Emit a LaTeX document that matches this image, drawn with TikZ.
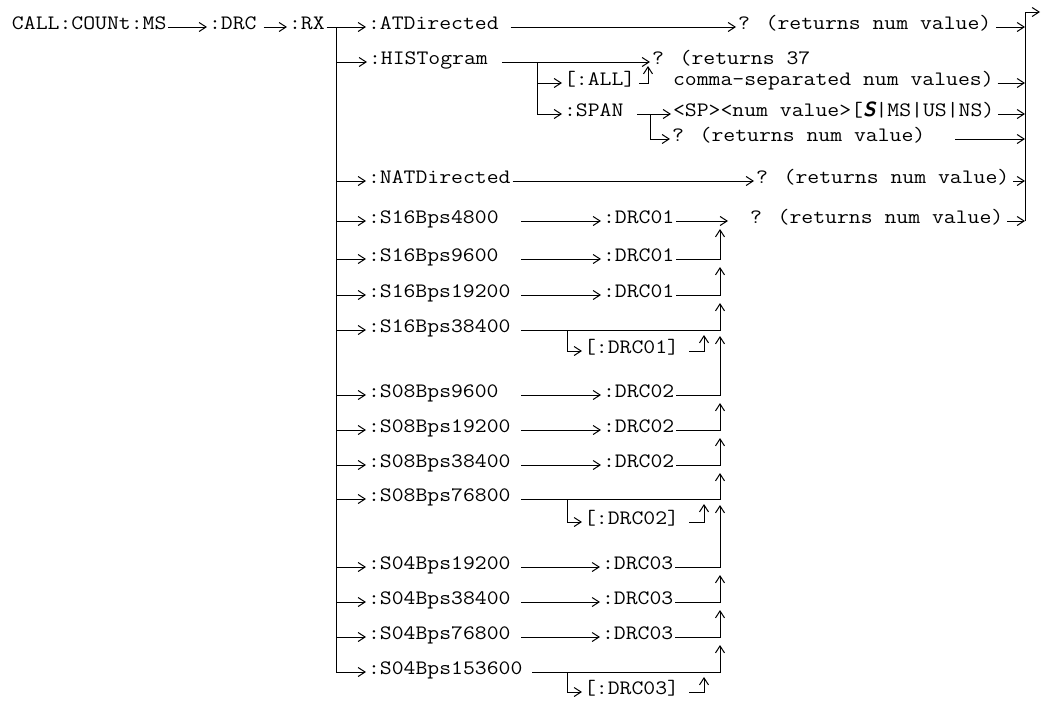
\documentclass[tikz,border=0pt]{standalone}
\usepackage{fontspec}
\newfontfamily\cour[FakeStretch=1.125]{Latin Modern Mono}
\usetikzlibrary{arrows.meta,calc}
\begin{document}
\begin{tikzpicture}[x=1pt,y=-1pt,
  lbl/.style={anchor=mid west, inner sep=0pt, outer sep=2pt, font={\cour\fontsize{20.5}{23}\selectfont}},
  ln/.style={line width=1pt},
  arr/.style={line width=1pt, -{Straight Barb[length=7pt,width=9pt]}}]
\useasboundingbox (0,0) rectangle (1041,702);
% nodes
\node[lbl] (call) at (10,27) {CALL:COUNt:MS};
\node[lbl] (drc) at (207,27) {:DRC};
\node[lbl] (rx) at (287,27) {:RX};
\node[lbl] (atd) at (366,27) {:ATDirected};
\node[lbl] (atdq) at (736,27) {? (returns num value)};
\node[lbl] (hist) at (367,62) {:HISTogram};
\node[lbl] (hq1) at (650,62) {? (returns 37};
\node[lbl] (hq2) at (671,83) {comma-separated num values)};
\node[lbl] (all) at (562,83) {[:ALL]};
\node[lbl] (span) at (562,114) {:SPAN};
\node[lbl] (spv) at (671,114) {<SP><num value>[{\sffamily\bfseries\itshape S}|MS|US|NS)};
\node[lbl] (spq) at (670,139) {? (returns num value)};
\node[lbl] (nat) at (366,181) {:NATDirected};
\node[lbl] (natq) at (754,181) {? (returns num value)};
\node[lbl] (s16a) at (366,221) {:S16Bps4800};
\node[lbl] (s16b) at (366,259) {:S16Bps9600};
\node[lbl] (s16c) at (366,295) {:S16Bps19200};
\node[lbl] (s16d) at (366,330) {:S16Bps38400};
\node[lbl] (o1) at (582,351) {[:DRC01]};
\node[lbl] (s08a) at (366,395) {:S08Bps9600};
\node[lbl] (s08b) at (366,430) {:S08Bps19200};
\node[lbl] (s08c) at (366,465) {:S08Bps38400};
\node[lbl] (s08d) at (366,499) {:S08Bps76800};
\node[lbl] (o2) at (582,522) {[:DRC02]};
\node[lbl] (s04a) at (366,567) {:S04Bps19200};
\node[lbl] (s04b) at (366,602) {:S04Bps38400};
\node[lbl] (s04c) at (366,637) {:S04Bps76800};
\node[lbl] (s04d) at (366,672) {:S04Bps153600};
\node[lbl] (o3) at (582,692) {[:DRC03]};
\node[lbl] (d1a) at (601,221) {:DRC01};
\node[lbl] (d1b) at (601,259) {:DRC01};
\node[lbl] (d1c) at (601,295) {:DRC01};
\node[lbl] (d2a) at (601,395) {:DRC02};
\node[lbl] (d2b) at (601,430) {:DRC02};
\node[lbl] (d2c) at (601,465) {:DRC02};
\node[lbl] (d3a) at (600,567) {:DRC03};
\node[lbl] (d3b) at (600,602) {:DRC03};
\node[lbl] (d3c) at (600,637) {:DRC03};
\node[lbl] (drcq) at (748,221) {? (returns num value)};
% helper coordinates
\coordinate (rxv) at (336,27);
\coordinate (hv) at (537,62);
\coordinate (allup) at (648,66);
\coordinate (sv) at (650,114);
\coordinate (bartop) at (1025,12);
\coordinate (barbot) at (1025,221);
\coordinate (lx) at (521,0);
\coordinate (mx) at (720,0);
\coordinate (ox) at (567,0);
\coordinate (oux) at (704,0);
% main chain
\draw[arr] (call.mid east) -- (drc.mid west);
\draw[arr] ($(drc.mid east)+(5,0)$) -- (rx.mid west);
\draw[arr] (rx.mid east) -- (atd.mid west);
\draw[arr] (rxv) |- (s04d.mid west);
\foreach \n in {hist,nat,s16a,s16b,s16c,s16d,s08a,s08b,s08c,s08d,s04a,s04b,s04c}
  \draw[arr] (rxv |- \n.mid west) -- (\n.mid west);
\draw[arr] ($(atd.mid east)+(10,0)$) -- (atdq.mid west);
\draw[arr] ($(atdq.mid east)+(3,0)$) -- (atdq.mid east -| bartop);
\draw[arr] (barbot) -- (bartop) -- ++(15,0);
% histogram
\draw[arr] ($(hist.mid east)+(12,0)$) -- (hq1.mid west);
\draw[arr] (hv) |- (all.mid west);
\draw[arr] (hv) |- (span.mid west);
\draw[arr] ($(all.mid east)+(2,0)$) -| (allup);
\draw[arr] ($(hq2.mid east)+(2,0)$) -- (hq2.mid east -| bartop);
\draw[arr] ($(span.mid east)+(12,0)$) -- (spv.mid west);
\draw[arr] (sv) |- (spq.mid west);
\draw[arr] ($(spv.mid east)+(2,0)$) -- (spv.mid east -| bartop);
\draw[arr] ($(spq.mid east)+(28,0)$) -- (spq.mid east -| bartop);
% natdirected
\draw[arr] (nat.mid east) -- (natq.mid west);
\draw[arr] ($(natq.mid east)+(2,0)$) -- (natq.mid east -| bartop);
% rate rows to DRC
\foreach \s/\d in {s16a/d1a,s16b/d1b,s16c/d1c,s08a/d2a,s08b/d2b,s08c/d2c,s04a/d3a,s04b/d3b,s04c/d3c}
  \draw[arr] (\s.mid east -| lx) -- (\d.mid west);
\draw[arr] (d1a.mid east) -- ($(drcq.mid west)+(-20,0)$);
\draw[arr] ($(drcq.mid east)+(2,0)$) -- (drcq.mid east -| bartop);
% merges
\draw[arr] (d1b.mid east) -| ($(d1a.mid east -| mx)+(0,8)$);
\draw[arr] (d1c.mid east) -| ($(d1b.mid east -| mx)+(0,8)$);
\draw[arr] (s16d.mid east -| lx) -| ($(d1c.mid east -| mx)+(0,8)$);
\draw[arr] (s16d.mid east -| ox) |- (o1.mid west);
\draw[arr] ($(o1.mid east)+(8,0)$) -| ($(s16d.mid east -| oux)+(0,5)$);
\draw[arr] (d2a.mid east) -| ($(s16d.mid east -| mx)+(0,6)$);
\draw[arr] (d2b.mid east) -| ($(d2a.mid east -| mx)+(0,8)$);
\draw[arr] (d2c.mid east) -| ($(d2b.mid east -| mx)+(0,8)$);
\draw[arr] (s08d.mid east -| lx) -| ($(d2c.mid east -| mx)+(0,8)$);
\draw[arr] (s08d.mid east -| ox) |- (o2.mid west);
\draw[arr] ($(o2.mid east)+(8,0)$) -| ($(s08d.mid east -| oux)+(0,5)$);
\draw[arr] (d3a.mid east) -| ($(s08d.mid east -| mx)+(0,6)$);
\draw[arr] (d3b.mid east) -| ($(d3a.mid east -| mx)+(0,8)$);
\draw[arr] (d3c.mid east) -| ($(d3b.mid east -| mx)+(0,8)$);
\draw[arr] ($(s04d.mid east)+(8,0)$) -| ($(d3c.mid east -| mx)+(0,8)$);
\draw[arr] (s04d.mid east -| ox) |- (o3.mid west);
\draw[arr] ($(o3.mid east)+(8,0)$) -| ($(s04d.mid east -| oux)+(0,5)$);
\end{tikzpicture}
\end{document}
